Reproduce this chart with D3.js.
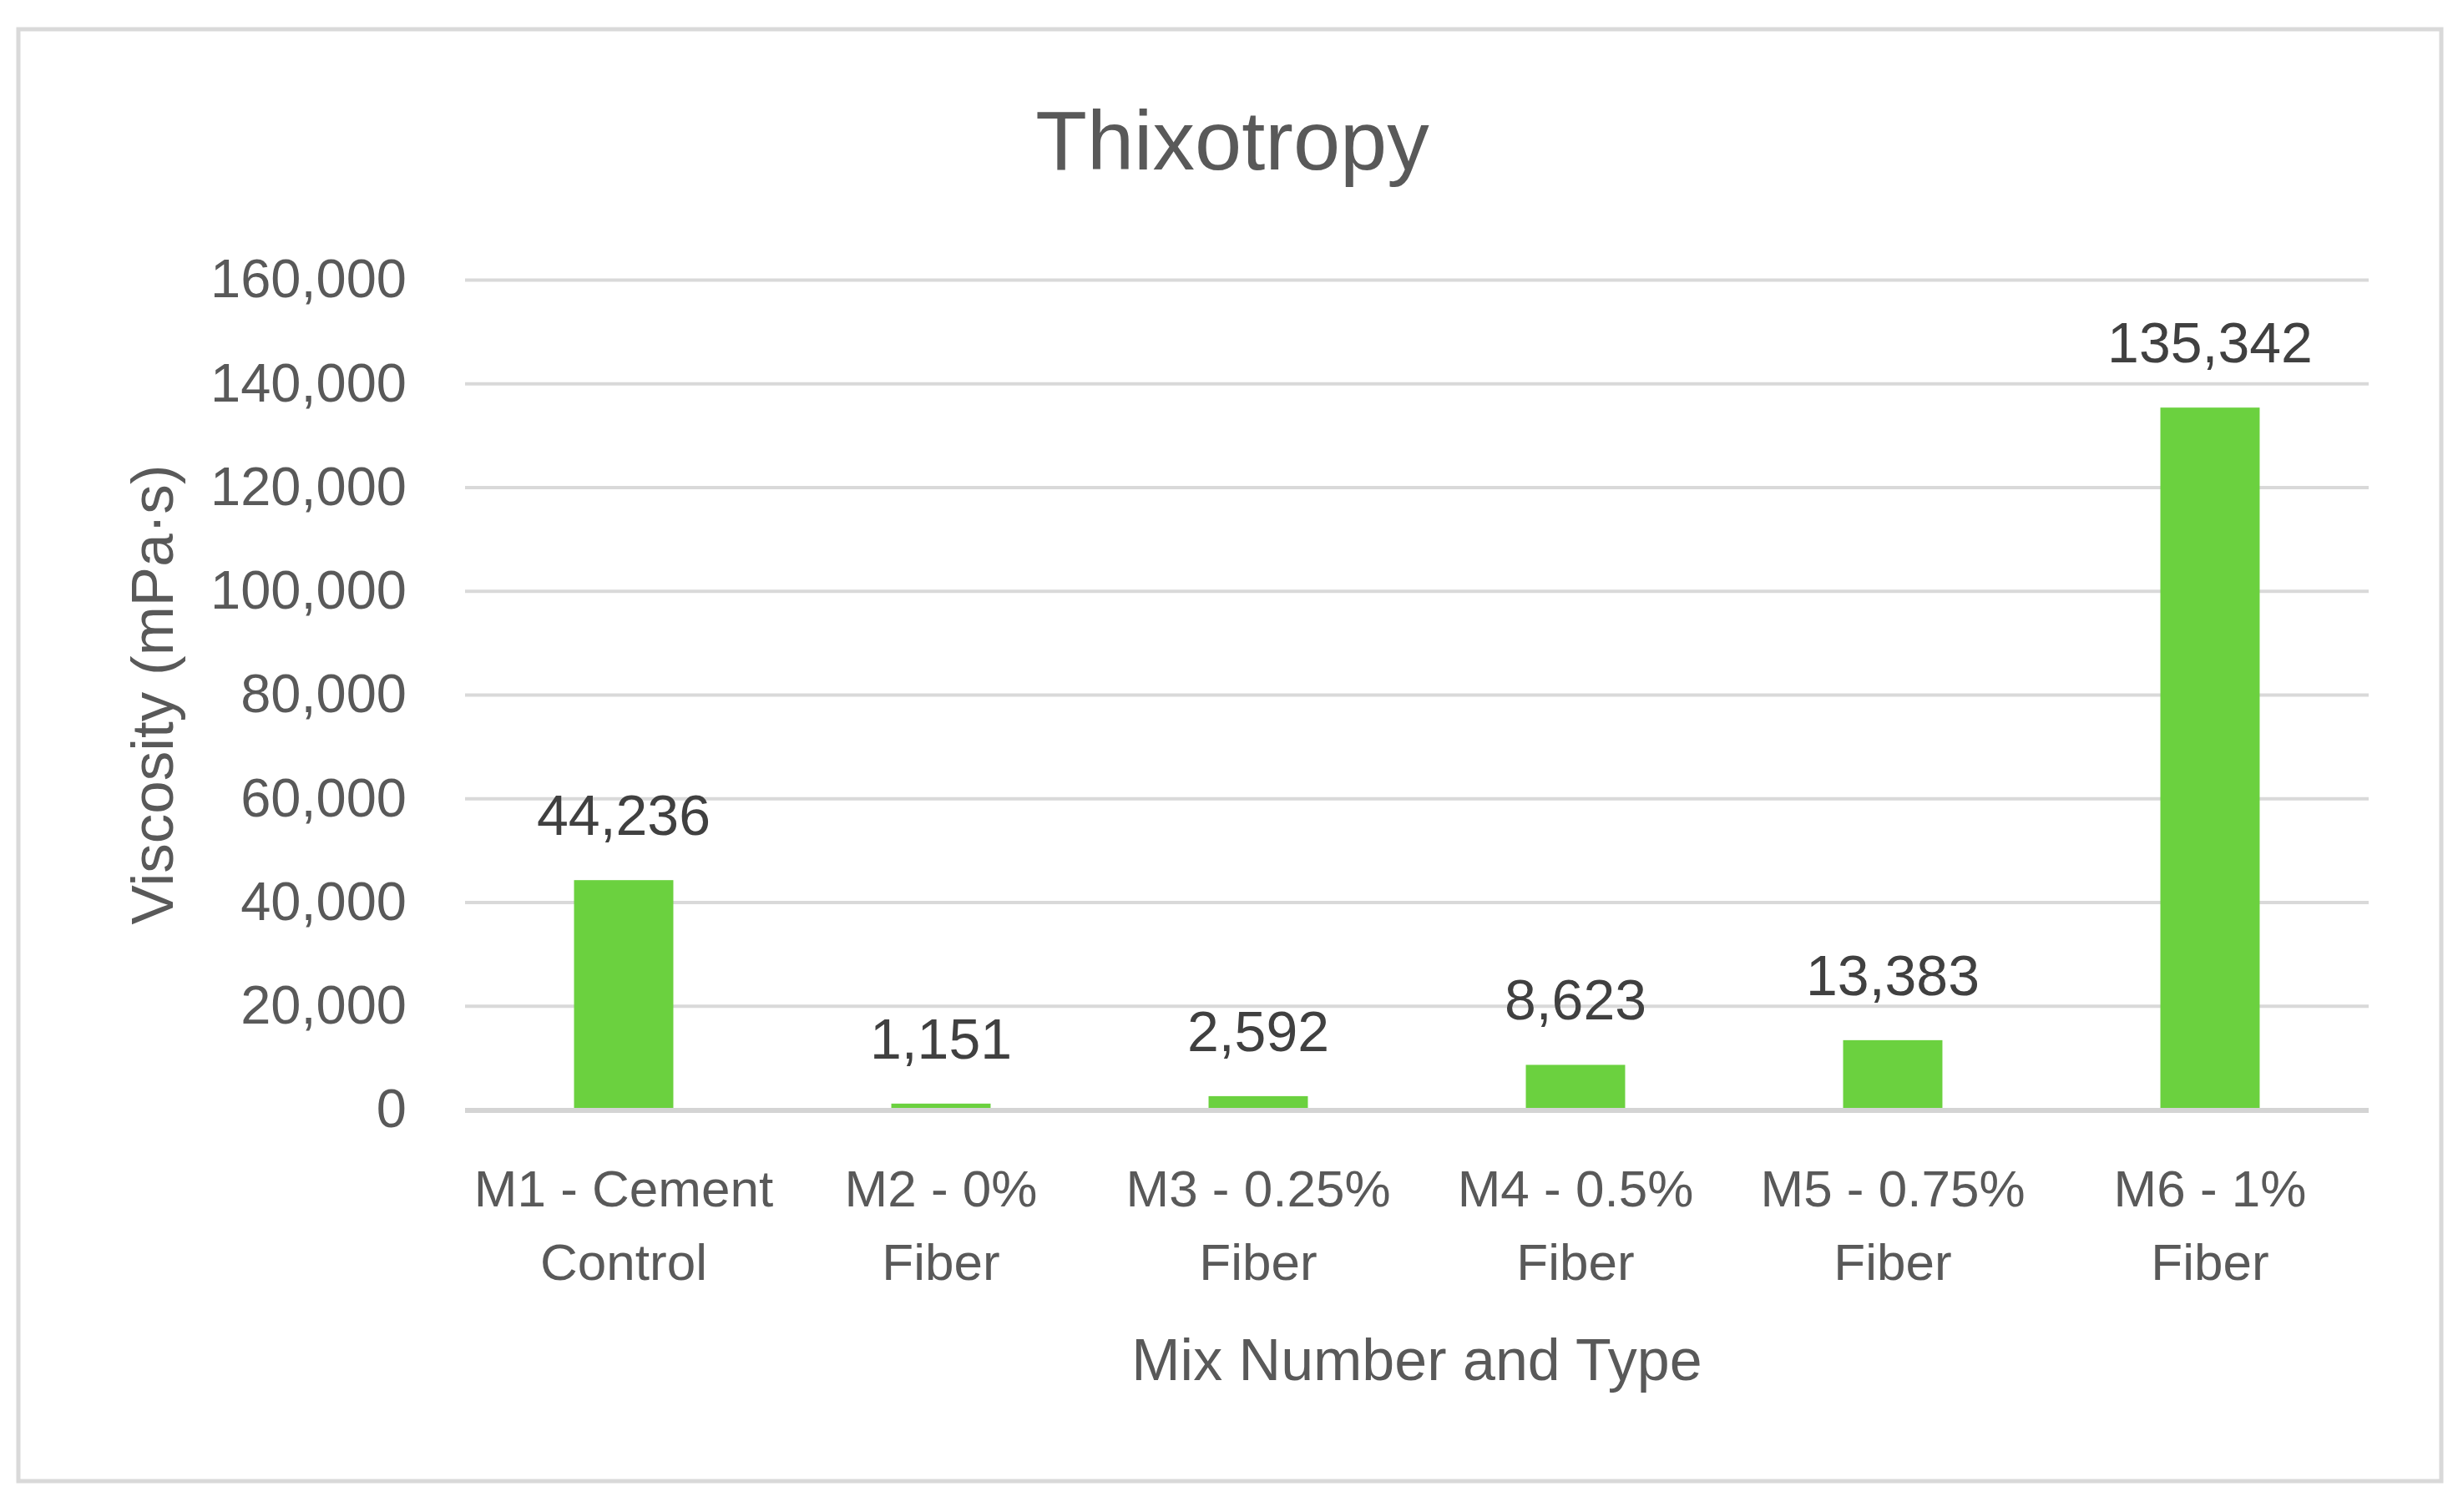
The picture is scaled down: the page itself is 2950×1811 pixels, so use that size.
<!DOCTYPE html>
<html>
<head>
<meta charset="utf-8">
<script src="https://cdn.jsdelivr.net/npm/d3@7"></script>
<style>
    body { margin: 0; background: #ffffff; }
    svg { display: block; }
</style>
</head>
<body>
<svg id="chart"></svg>
<script>
// chart data
var categories = ['M1 - Cement Control', 'M2 - 0% Fiber', 'M3 - 0.25% Fiber', 'M4 - 0.5% Fiber', 'M5 - 0.75% Fiber', 'M6 - 1% Fiber'];
var values = [44236, 1151, 2592, 8623, 13383, 135342];
var yTicks = [0, 20000, 40000, 60000, 80000, 100000, 120000, 140000, 160000];

var chartTitle = 'Thixotropy';
var xTitle = 'Mix Number and Type';
var yTitle = 'Viscosity (mPa\u00b7s)';

var config = {
    width: 2950,
    height: 1811,
    left: 557,
    right: 2837,
    top: 335,
    bottom: 1329,
    barColor: '#6bd13f',
    gridColor: '#d9d9d9',
    textColor: '#595959',
    labelColor: '#404040',
    font: '"Liberation Sans", Arial, sans-serif'
};

var svg = d3.select('#chart')
    .attr('width', config.width)
    .attr('height', config.height);

// outer frame
svg.append('rect')
    .attr('x', 22)
    .attr('y', 35)
    .attr('width', 2902)
    .attr('height', 1739)
    .attr('fill', '#ffffff')
    .attr('stroke', config.gridColor)
    .attr('stroke-width', 5);

var x = d3.scaleBand()
    .domain(categories)
    .range([config.left, config.right])
    .paddingInner(0.687)
    .paddingOuter(0.3435);

var y = d3.scaleLinear()
    .domain([0, 160000])
    .range([config.bottom, config.top]);

// y axis with gridlines
var yAxis = svg.append('g')
    .attr('class', 'y-axis')
    .attr('transform', 'translate(' + config.left + ',0)')
    .call(d3.axisLeft(y)
        .tickValues(yTicks)
        .tickFormat(d3.format(','))
        .tickSize(-(config.right - config.left))
        .tickPadding(70));

yAxis.select('.domain').remove();
yAxis.selectAll('.tick line')
    .attr('stroke', config.gridColor)
    .attr('stroke-width', 4);
yAxis.selectAll('.tick text')
    .attr('fill', config.textColor)
    .style('font-family', config.font)
    .style('font-size', '65px');

// bars
svg.append('g')
    .attr('class', 'bars')
    .selectAll('rect')
    .data(values)
    .enter()
    .append('rect')
    .attr('x', function (d, i) { return x(categories[i]); })
    .attr('y', function (d) { return y(d); })
    .attr('width', x.bandwidth())
    .attr('height', function (d) { return y(0) - y(d); })
    .attr('fill', config.barColor);

// baseline
svg.append('line')
    .attr('x1', config.left)
    .attr('x2', config.right)
    .attr('y1', y(0) + 1)
    .attr('y2', y(0) + 1)
    .attr('stroke', '#d4d4d4')
    .attr('stroke-width', 6);

// value labels
svg.append('g')
    .attr('class', 'value-labels')
    .selectAll('text')
    .data(values)
    .enter()
    .append('text')
    .attr('x', function (d, i) { return x(categories[i]) + x.bandwidth() / 2; })
    .attr('y', function (d) { return y(d) - 54; })
    .attr('text-anchor', 'middle')
    .attr('fill', config.labelColor)
    .style('font-family', config.font)
    .style('font-size', '68px')
    .text(function (d) { return d3.format(',')(d); });

// category labels, split on last space
var catLabels = svg.append('g')
    .attr('class', 'x-labels')
    .selectAll('text')
    .data(categories)
    .enter()
    .append('text')
    .attr('text-anchor', 'middle')
    .attr('fill', config.textColor)
    .style('font-family', config.font)
    .style('font-size', '62px');

catLabels.each(function (d) {
    var cut = d.lastIndexOf(' ');
    var cx = x(d) + x.bandwidth() / 2;
    var t = d3.select(this);
    t.append('tspan').attr('x', cx).attr('y', 1445).text(d.slice(0, cut));
    t.append('tspan').attr('x', cx).attr('y', 1533).text(d.slice(cut + 1));
});

// titles
svg.append('text')
    .attr('x', 1476)
    .attr('y', 203)
    .attr('text-anchor', 'middle')
    .attr('fill', config.textColor)
    .style('font-family', config.font)
    .style('font-size', '101px')
    .text(chartTitle);

svg.append('text')
    .attr('x', (config.left + config.right) / 2)
    .attr('y', 1653)
    .attr('text-anchor', 'middle')
    .attr('fill', config.textColor)
    .style('font-family', config.font)
    .style('font-size', '70px')
    .text(xTitle);

svg.append('text')
    .attr('transform', 'translate(207,' + ((config.top + config.bottom) / 2) + ') rotate(-90)')
    .attr('text-anchor', 'middle')
    .attr('fill', config.textColor)
    .style('font-family', config.font)
    .style('font-size', '71px')
    .text(yTitle);
</script>
</body>
</html>
